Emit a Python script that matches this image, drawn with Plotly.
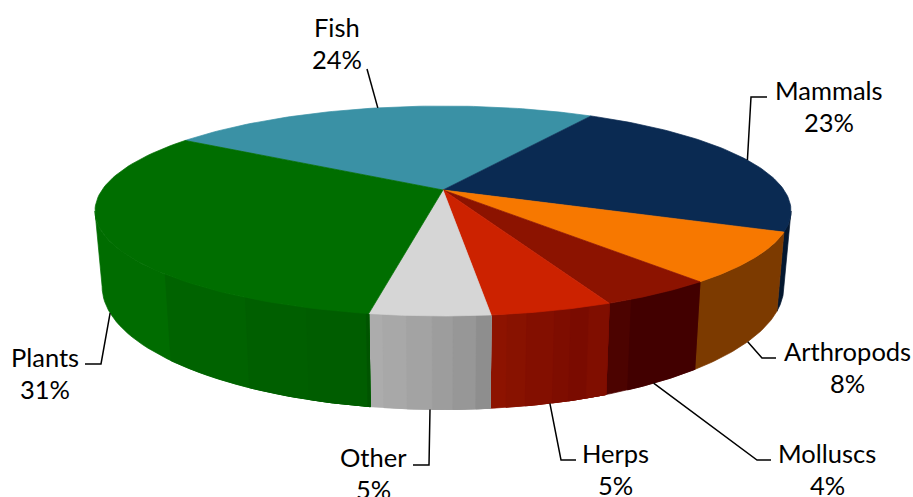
#!/usr/bin/env python3
from __future__ import annotations

import numpy as np
import plotly.graph_objects as go

# clockwise from the top-left edge of the Fish slice
CATEGORIES = ["Fish", "Mammals", "Arthropods", "Molluscs", "Herps", "Other", "Plants"]
SHARES = [24.33, 22.8, 7.7, 4.49, 4.71, 4.6, 31.37]
PCT_LABELS = [24, 23, 8, 4, 5, 5, 31]

TOP_COLORS = ["#3a91a5", "#0a2a52", "#f77800", "#8c1300", "#cc2200", "#d6d6d6", "#006e00"]

# wall shading: colour per band left to right, and where each band starts along the visible arc
WALL_COLORS = {
    "Mammals": ["#04172f"],
    "Arthropods": ["#7c3a00"],
    "Molluscs": ["#4c0300", "#420000"],
    "Herps": ["#8d1300", "#881200", "#830f00", "#7e0d00", "#7a0b00", "#800e00"],
    "Other": ["#acacac", "#a8a8a8", "#a3a3a3", "#9d9d9d", "#979797", "#8e8e8e"],
    "Plants": ["#006c00", "#006300", "#005f00", "#005d00", "#005400"],
}
WALL_STARTS = {
    "Mammals": [0.0],
    "Arthropods": [0.0],
    "Molluscs": [0.0, 0.22],
    "Herps": [0.0, 0.13, 0.29, 0.52, 0.66, 0.82],
    "Other": [0.0, 0.115, 0.31, 0.52, 0.69, 0.88],
    "Plants": [0.0, 0.50, 0.73, 0.87, 0.995],
}

# pie placement in page pixels
START_DEG = 303.0
CX = 443.0
TILT = 0.2
TOP = {"a": 341.0, "b": 100.8, "y0": 190.0}
BOTTOM = {"a": 334.0, "b": 118.0, "y0": 262.0}
EDGE_V = TILT  # the outline turns back where v equals the tilt
LINE_GAP = 32

# leader elbows and label centres
LEADER_FACE = {"Fish": "top", "Mammals": "top"}
LEADER_ELBOWS = {
    "Fish": [(367, 69)],
    "Mammals": [(751, 97), (767, 97)],
    "Arthropods": [(762, 358), (776, 358)],
    "Molluscs": [(757, 460), (771, 460)],
    "Herps": [(561, 460), (576, 460)],
    "Other": [(429, 465), (413, 465)],
    "Plants": [(101, 364), (85, 364)],
}
LABEL_POS = {
    "Fish": (337, 43),
    "Mammals": (829, 106),
    "Arthropods": (847, 367),
    "Molluscs": (827, 469),
    "Herps": (615, 469),
    "Other": (373, 473),
    "Plants": (45, 373),
}


def project(deg: np.ndarray, face: dict) -> tuple[np.ndarray, np.ndarray]:
    rad = np.radians(deg)
    u = np.sin(rad)
    v = -np.cos(rad)
    w = 1 - TILT * v
    return CX + face["a"] * u / w, face["y0"] + face["b"] * v / w


def arc(start: float, end: float, n: int = 60) -> np.ndarray:
    return np.linspace(start, end, n)


def add_poly(fig: go.Figure, x, y, color: str) -> None:
    fig.add_trace(
        go.Scatter(
            x=np.r_[x, x[0]],
            y=np.r_[y, y[0]],
            mode="lines",
            fill="toself",
            fillcolor=color,
            line=dict(color=color, width=0.7),
            hoverinfo="skip",
            showlegend=False,
        )
    )


def label(x: float, y: float, text: str) -> dict:
    return dict(
        x=x,
        y=y,
        xref="x",
        yref="y",
        text=text,
        showarrow=False,
        xanchor="center",
        yanchor="middle",
        font=dict(family="Lato, sans-serif", size=25.5, color="#000000"),
    )


edges = START_DEG + np.cumsum([0] + [s * 3.6 for s in SHARES])
right_limit = np.degrees(np.arccos(-EDGE_V))  # ~101.5
left_limit = 360 - right_limit

fig = go.Figure()

# walls first, tops painted over them. bands run left to right (angle falls), each
# one reaches to the end of its slice so the next paints over it with no seam
for i, name in enumerate(CATEGORIES):
    if name not in WALL_COLORS:
        continue
    a0 = edges[i] % 360
    a1 = a0 + SHARES[i] * 3.6
    start = min(a1, left_limit)
    span = max(a0, right_limit) - start
    for color, frac in zip(WALL_COLORS[name], WALL_STARTS[name]):
        band = arc(start + frac * span, start + span, 40)
        tx, ty = project(band, TOP)
        bx, by = project(band, BOTTOM)
        add_poly(fig, np.r_[tx, bx[::-1]], np.r_[ty, by[::-1]], color)

for i, name in enumerate(CATEGORIES):
    rim = arc(edges[i], edges[i + 1], 80)
    rx, ry = project(rim, TOP)
    add_poly(fig, np.r_[CX, rx], np.r_[TOP["y0"], ry], TOP_COLORS[i])

# leaders start on the rim at each slice's middle angle
shapes = []
for i, name in enumerate(CATEGORIES):
    mid = np.array([(edges[i] + edges[i + 1]) / 2])
    face = TOP if LEADER_FACE.get(name) == "top" else BOTTOM
    sx, sy = project(mid, face)
    pts = [(float(sx[0]), float(sy[0]))] + LEADER_ELBOWS[name]
    path = "M " + " L ".join(f"{px:.1f} {py:.1f}" for px, py in pts)
    shapes.append(dict(type="path", path=path, xref="x", yref="y", line=dict(color="#000000", width=1.5)))

annotations = []
for name, pct in zip(CATEGORIES, PCT_LABELS):
    lx, ly = LABEL_POS[name]
    annotations.append(label(lx, ly - LINE_GAP / 2, name))
    annotations.append(label(lx, ly + LINE_GAP / 2, f"{pct}%"))

fig.update_layout(
    width=913,
    height=497,
    margin=dict(l=0, r=0, t=0, b=0),
    paper_bgcolor="#ffffff",
    plot_bgcolor="#ffffff",
    xaxis=dict(range=[0, 913], visible=False, fixedrange=True),
    yaxis=dict(range=[497, 0], visible=False, fixedrange=True),
    shapes=shapes,
    annotations=annotations,
    showlegend=False,
)

fig.write_html("out.html", post_script="document.body.style.margin='0';", config={"displayModeBar": False})
